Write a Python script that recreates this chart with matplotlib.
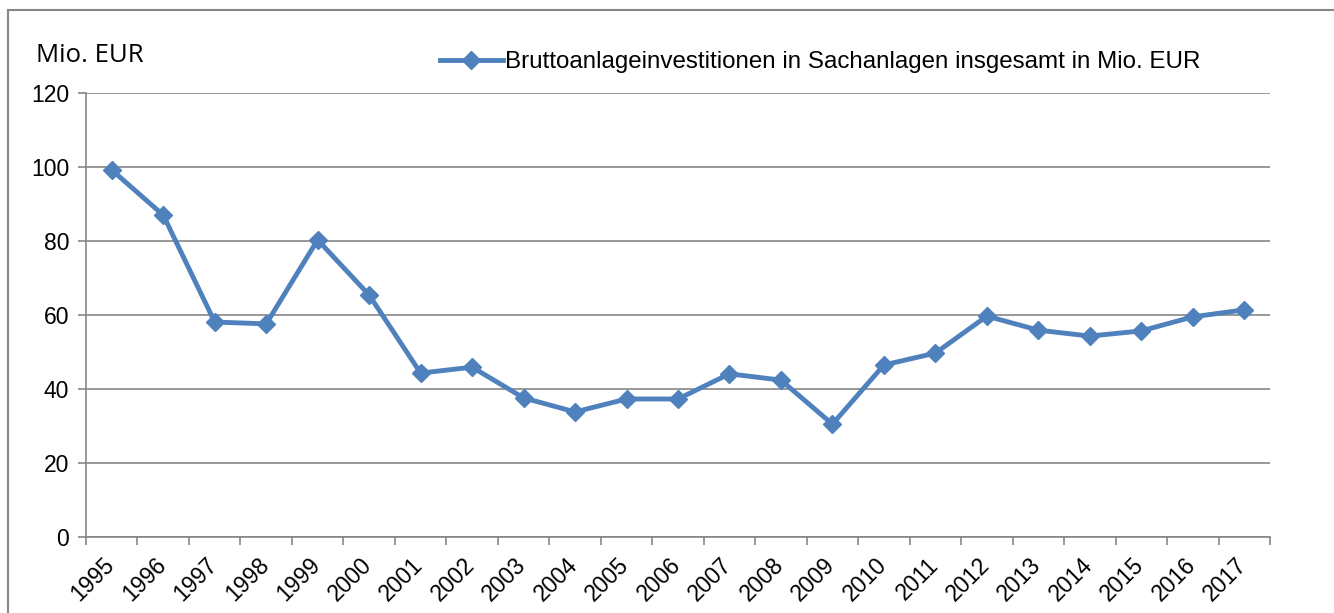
import numpy as np
import matplotlib.pyplot as plt
from matplotlib.patches import Rectangle
from matplotlib.transforms import ScaledTranslation

years = [str(y) for y in range(1995, 2018)]
invest = [99.2, 87.0, 58.1, 57.6, 80.3, 65.4, 44.3, 45.9, 37.6, 33.8, 37.3, 37.3,
          44.1, 42.4, 30.5, 46.5, 49.7, 59.7, 55.9, 54.3, 55.7, 59.5, 61.4]
series_label = "Bruttoanlageinvestitionen in Sachanlagen insgesamt in Mio. EUR"

plt.rcParams['font.family'] = ['Liberation Sans', 'DejaVu Sans']

fig = plt.figure(figsize=(13.34, 6.13), dpi=100)
ax = fig.add_axes([86 / 1334, 1 - 537 / 613, (1270 - 86) / 1334, (537 - 93) / 613])

# outer chart frame (cut at right/bottom like the reference)
fig.patches.append(Rectangle((8 / 1334, -0.1), 1.2, 1 - 10 / 613 + 0.1,
                             transform=fig.transFigure, fill=False,
                             edgecolor='#868686', linewidth=1.5))

x = np.arange(len(years))
grey = '#868686'
ax.plot(x, invest, color='#4F81BD', linewidth=3.5, marker='D', markersize=9.5,
        label=series_label)

ax.set_xlim(-0.5, len(years) - 0.5)
ax.set_ylim(0, 120)
ax.set_yticks(np.arange(0, 121, 20))
ax.yaxis.grid(True, color=grey, linewidth=1.2)
ax.set_axisbelow(True)

ax.set_xticks(np.arange(-0.5, len(years), 1.0))
ax.set_xticklabels([])
ax.set_xticks(x, minor=True)
ax.set_xticklabels(years, minor=True, rotation=45, ha='right', va='top',
                   rotation_mode='anchor', fontsize=16.5)
ax.tick_params(axis='x', which='minor', length=0, pad=12)
ax.tick_params(axis='x', which='major', length=6, color=grey, width=1.2, direction='out')
ax.tick_params(axis='y', length=6, color=grey, width=1.2, labelsize=16.5, pad=6)

# nudge year labels left so they sit like the original
shift = ScaledTranslation(-9 / 100, 0, fig.dpi_scale_trans)
for lab in ax.get_xticklabels(minor=True):
    lab.set_transform(lab.get_transform() + shift)

for s in ['top', 'right']:
    ax.spines[s].set_visible(False)
for s in ['left', 'bottom']:
    ax.spines[s].set_color(grey)
    ax.spines[s].set_linewidth(1.2)

fig.text(36 / 1334, 1 - 62 / 613, "Mio. EUR", fontsize=18.5,
         family=['Open Sans', 'DejaVu Sans'], va='baseline')

ax.legend(loc='center left', bbox_to_anchor=(440 / 1334, 1 - 62 / 613),
          bbox_transform=fig.transFigure, frameon=False, fontsize=17.4,
          handlelength=2.6, handletextpad=0.1, borderpad=0, borderaxespad=0)

fig.savefig('out.png', dpi=100)
